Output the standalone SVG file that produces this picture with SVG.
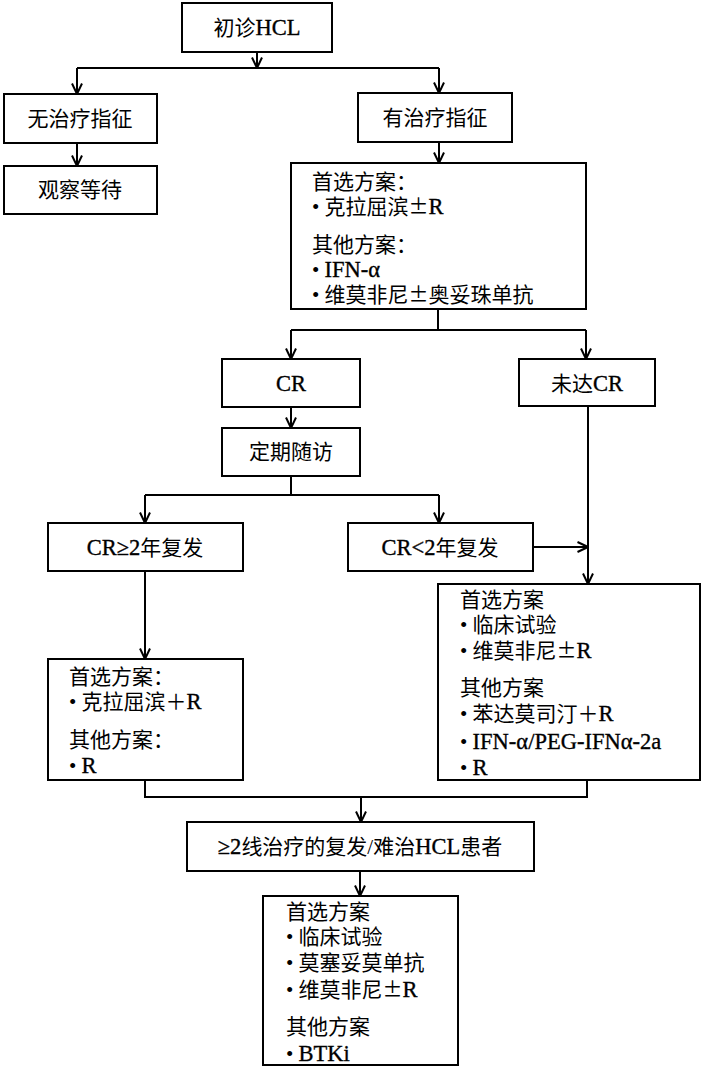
<svg xmlns="http://www.w3.org/2000/svg" width="703" height="1068" viewBox="0 0 703 1068">
<defs>
<marker id="ah" markerUnits="userSpaceOnUse" viewBox="0 0 12 12" refX="11.5" refY="6" markerWidth="12" markerHeight="12" orient="auto">
<path d="M1,1 L11.5,6 L1,11" fill="none" stroke="#000" stroke-width="2"/>
</marker>
<style>
rect{fill:#fff;stroke:#000;stroke-width:2}
text{font-family:"Liberation Serif","Noto Sans CJK SC",serif;font-size:21px;fill:#000}
.c{text-anchor:middle}
.l{font-size:22.5px;stroke:#000;stroke-width:0.35}
.p{font-family:"Noto Sans CJK SC",sans-serif;font-size:20px}
#connectors path{fill:none;stroke:#000;stroke-width:2}
</style>
</defs>
<rect x="0" y="0" width="703" height="1068" style="fill:#fff;stroke:none"/>
<g id="connectors">
<path d="M257,52 V68" marker-end="url(#ah)"/>
<path d="M77,68 H439"/>
<path d="M77,68 V94" marker-end="url(#ah)"/>
<path d="M439,68 V93" marker-end="url(#ah)"/>
<path d="M77,143 V166" marker-end="url(#ah)"/>
<path d="M439,142 V163" marker-end="url(#ah)"/>
<path d="M438,309 V330"/>
<path d="M291,330 H586"/>
<path d="M291,330 V359" marker-end="url(#ah)"/>
<path d="M586,330 V359" marker-end="url(#ah)"/>
<path d="M291,407 V428" marker-end="url(#ah)"/>
<path d="M291,476 V495"/>
<path d="M145,495 H439"/>
<path d="M145,495 V523" marker-end="url(#ah)"/>
<path d="M439,495 V523" marker-end="url(#ah)"/>
<path d="M533,547 H588" marker-end="url(#ah)"/>
<path d="M588,406 V584" marker-end="url(#ah)"/>
<path d="M145,571 V659" marker-end="url(#ah)"/>
<path d="M145,780 V797 H587 V780"/>
<path d="M361,797 V822" marker-end="url(#ah)"/>
<path d="M360,871 V896" marker-end="url(#ah)"/>
</g>
<g id="n1"><rect x="182" y="3" width="150" height="49"/><text class="c" x="257" y="35">初诊<tspan class="l">HCL</tspan></text></g>
<g id="n2"><rect x="4" y="94" width="153" height="49"/><text class="c" x="80" y="126">无治疗指征</text></g>
<g id="n3"><rect x="4" y="166" width="153" height="48"/><text class="c" x="80" y="197">观察等待</text></g>
<g id="n4"><rect x="358" y="93" width="154" height="49"/><text class="c" x="435" y="125">有治疗指征</text></g>
<g id="n5"><rect x="291" y="163" width="295" height="146"/>
<text x="312" y="189">首选方案：</text>
<text x="312" y="214">• 克拉屈滨<tspan class="p">±</tspan><tspan class="l">R</tspan></text>
<text x="312" y="252">其他方案：</text>
<text x="312" y="277">• <tspan class="l">IFN-α</tspan></text>
<text x="312" y="302">• 维莫非尼<tspan class="p">±</tspan>奥妥珠单抗</text></g>
<g id="n6"><rect x="222" y="359" width="138" height="48"/><text class="c" x="291" y="391"><tspan class="l">CR</tspan></text></g>
<g id="n7"><rect x="519" y="359" width="136" height="47"/><text class="c" x="587" y="391">未达<tspan class="l">CR</tspan></text></g>
<g id="n8"><rect x="222" y="428" width="138" height="48"/><text class="c" x="291" y="459">定期随访</text></g>
<g id="n9"><rect x="48" y="523" width="195" height="48"/><text class="c" x="145" y="555"><tspan class="l">CR≥2</tspan>年复发</text></g>
<g id="n10"><rect x="348" y="523" width="185" height="48"/><text class="c" x="440" y="555"><tspan class="l">CR&lt;2</tspan>年复发</text></g>
<g id="n11"><rect x="48" y="659" width="195" height="121"/>
<text x="69" y="684">首选方案：</text>
<text x="69" y="709">• 克拉屈滨＋<tspan class="l">R</tspan></text>
<text x="69" y="747">其他方案：</text>
<text x="69" y="773">• <tspan class="l">R</tspan></text></g>
<g id="n12"><rect x="438" y="584" width="262" height="196"/>
<text x="460" y="607">首选方案</text>
<text x="460" y="632">• 临床试验</text>
<text x="460" y="658">• 维莫非尼<tspan class="p">±</tspan><tspan class="l">R</tspan></text>
<text x="460" y="695">其他方案</text>
<text x="460" y="721">• 苯达莫司汀＋<tspan class="l">R</tspan></text>
<text x="460" y="749">• <tspan class="l">IFN-α/PEG-IFNα-2a</tspan></text>
<text x="460" y="775">• <tspan class="l">R</tspan></text></g>
<g id="n13"><rect x="187" y="822" width="347" height="49"/><text class="c" x="360" y="854"><tspan class="l">≥2</tspan>线治疗的复发/难治<tspan class="l">HCL</tspan>患者</text></g>
<g id="n14"><rect x="263" y="896" width="195" height="169"/>
<text x="286" y="919">首选方案</text>
<text x="286" y="944">• 临床试验</text>
<text x="286" y="970">• 莫塞妥莫单抗</text>
<text x="286" y="997">• 维莫非尼<tspan class="p">±</tspan><tspan class="l">R</tspan></text>
<text x="286" y="1034">其他方案</text>
<text x="286" y="1061">• <tspan class="l">BTKi</tspan></text></g>
</svg>
